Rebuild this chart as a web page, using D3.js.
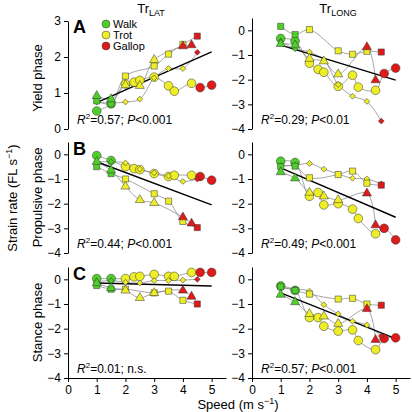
<!DOCTYPE html>
<html><head><meta charset="utf-8">
<script src="https://cdn.jsdelivr.net/npm/d3@7"></script>
<style>body{margin:0;background:#fff}svg{display:block;font-family:"Liberation Sans",Arial,Helvetica,sans-serif}</style>
</head><body><svg id="c" width="412" height="412"></svg>
<script>
// ---------- DATA ----------
const gaitNames = ["Walk", "Trot", "Gallop"];
const gaitColors = ["#4fcf2a", "#eeee26", "#de1a1a"];

// speeds (m/s) and gait index (0 walk, 1 trot, 2 gallop) per animal (marker)
const circleSpeeds   = [1.0, 1.5, 2.0, 2.3, 2.5, 3.0, 3.5, 3.7, 4.3, 4.6, 5.0];
const circleGaits    = [0, 0, 1, 1, 1, 1, 1, 1, 1, 2, 2];
const diamondSpeeds  = [1.0, 1.5, 2.0, 2.5, 3.0, 3.5, 4.0, 4.5];
const diamondGaits   = [0, 0, 1, 1, 1, 1, 1, 2];
const squareSpeeds   = [1.0, 1.5, 2.0, 3.0, 3.5, 4.0, 4.5];
const squareGaits    = [0, 0, 1, 1, 1, 1, 2];
const triangleSpeeds = [1.0, 1.5, 2.0, 2.5, 3.0, 4.0, 4.3];
const triangleGaits  = [0, 0, 1, 1, 1, 2, 2];

// Yield phase, TrLAT
const latYieldCircle   = [0.5, 0.7, 1.25, 1.3, 1.35, 1.44, 1.2, 1.05, 1.27, 1.15, 1.22];
const latYieldDiamond  = [0.75, 0.72, 0.75, 0.83, 1.42, 1.68, 1.68, 2.13];
const latYieldSquare   = [0.78, 0.7, 1.47, 1.75, 2.08, 2.35, 2.58];
const latYieldTriangle = [0.92, 0.83, 1.22, 1.2, 1.92, 2.3, 2.33];
// Yield phase, TrLONG
const longYieldCircle   = [-0.33, -0.43, -1.33, -1.58, -1.7, -2.27, -1.82, -2.3, -2.43, -1.75, -1.53];
const longYieldDiamond  = [-0.45, -0.75, -0.88, -1.2, -2.2, -2.67, -2.88, -3.68];
const longYieldSquare   = [0.16, -0.17, 0.03, -0.83, -0.97, -0.85, -0.88];
const longYieldTriangle = [-0.55, -0.6, -1.15, -1.25, -1.78, -0.68, -2.02];
// Propulsive phase, TrLAT
const latPropCircle   = [-0.05, -0.25, -0.5, -0.58, -0.62, -0.78, -0.9, -0.85, -0.85, -0.9, -1.05];
const latPropDiamond  = [-0.3, -0.3, -0.35, -0.6, -0.75, -0.88, -1.1, -1.0];
const latPropSquare   = [-0.5, -0.78, -1.0, -1.6, -1.9, -2.72, -2.97];
const latPropTriangle = [-0.3, -0.65, -1.3, -1.85, -1.97, -2.55, -2.8];
// Propulsive phase, TrLONG
const longPropCircle   = [-0.28, -0.33, -1.7, -1.55, -2.05, -2.0, -2.22, -2.6, -3.22, -3.0, -3.47];
const longPropDiamond  = [-0.45, -0.45, -0.37, -0.6, -0.8, -0.97, -1.0, -1.2];
const longPropSquare   = [-0.5, -0.48, -0.95, -0.82, -0.68, -1.17, -1.25];
const longPropTriangle = [-0.72, -0.97, -1.55, -1.7, -1.85, -1.58, -2.87];
// Stance phase, TrLAT
const latStanceCircle   = [0.03, 0.03, 0.03, 0.1, 0.12, 0.2, 0.12, 0.12, 0.28, 0.28, 0.28];
const latStanceDiamond  = [-0.1, -0.05, -0.12, -0.15, -0.05, -0.05, -0.03, 0.0];
const latStanceSquare   = [-0.25, -0.4, -0.4, -0.55, -0.48, -0.85, -1.0];
const latStanceTriangle = [-0.15, -0.35, -0.45, -0.75, -0.55, -0.45, -0.7];
// Stance phase, TrLONG
const longStanceCircle   = [-0.27, -0.45, -1.55, -1.55, -1.9, -2.1, -2.05, -2.48, -2.85, -2.4, -2.37];
const longStanceDiamond  = [-0.35, -0.4, -0.48, -1.03, -1.4, -1.7, -1.85, -2.3];
const longStanceSquare   = [-0.3, -0.45, -0.6, -0.8, -0.77, -1.0, -1.05];
const longStanceTriangle = [-0.62, -0.92, -1.4, -1.5, -1.8, -1.2, -2.45];

// regression lines: [speed, value] at both ends
const fitLatYield    = [[1, 0.73], [5, 2.14]];
const fitLongYield   = [[1, -0.6], [5, -2.02]];
const fitLatProp     = [[1, -0.3], [5, -2.05]];
const fitLongProp    = [[1, -0.55], [5, -2.55]];
const fitLatStance   = [[1, -0.15], [5, -0.27]];
const fitLongStance  = [[1, -0.55], [5, -2.4]];

const statLabels = [["0.57", "<0.001"], ["0.29", "<0.01"], ["0.44", "<0.001"], ["0.49", "<0.001"], ["0.01", "n.s."], ["0.57", "<0.001"]];
const rowLabels = ["Yield phase", "Propulsive phase", "Stance phase"];
const panelLetters = ["A", "B", "C"];
const xTicks = [0, 1, 2, 3, 4, 5];
const yTicksLatYield = [0, 1, 2, 3];
const yTicksNeg = [0, -1, -2, -3, -4];

// ---------- LAYOUT ----------
const svg = d3.select("#c");
const colX = [[68, 226], [252, 410]];
const rowY = [[129, 18], [253, 142], [378, 267]];

const animals = [
  {shape: "circle", speeds: circleSpeeds, gaits: circleGaits},
  {shape: "diamond", speeds: diamondSpeeds, gaits: diamondGaits},
  {shape: "square", speeds: squareSpeeds, gaits: squareGaits},
  {shape: "triangle", speeds: triangleSpeeds, gaits: triangleGaits}
];

const panels = [
  {row: 0, col: 0, vals: [latYieldCircle, latYieldDiamond, latYieldSquare, latYieldTriangle], fit: fitLatYield, stat: statLabels[0], ydom: [0, 3], yr: [129, 21], ticks: yTicksLatYield},
  {row: 0, col: 1, vals: [longYieldCircle, longYieldDiamond, longYieldSquare, longYieldTriangle], fit: fitLongYield, stat: statLabels[1], ydom: [-4, 0.5], yr: rowY[0], ticks: yTicksNeg},
  {row: 1, col: 0, vals: [latPropCircle, latPropDiamond, latPropSquare, latPropTriangle], fit: fitLatProp, stat: statLabels[2], ydom: [-4, 0.5], yr: rowY[1], ticks: yTicksNeg},
  {row: 1, col: 1, vals: [longPropCircle, longPropDiamond, longPropSquare, longPropTriangle], fit: fitLongProp, stat: statLabels[3], ydom: [-4, 0.5], yr: rowY[1], ticks: yTicksNeg},
  {row: 2, col: 0, vals: [latStanceCircle, latStanceDiamond, latStanceSquare, latStanceTriangle], fit: fitLatStance, stat: statLabels[4], ydom: [-4, 0.5], yr: rowY[2], ticks: yTicksNeg},
  {row: 2, col: 1, vals: [longStanceCircle, longStanceDiamond, longStanceSquare, longStanceTriangle], fit: fitLongStance, stat: statLabels[5], ydom: [-4, 0.5], yr: rowY[2], ticks: yTicksNeg}
];

function symbolPath(shape) {
  if (shape === "circle") return d3.symbol(d3.symbolCircle, 60)();
  if (shape === "square") return d3.symbol(d3.symbolSquare, 38)();
  if (shape === "triangle") return d3.symbol(d3.symbolTriangle, 36)();
  return d3.symbol(d3.symbolSquare, 17)();
}

panels.forEach(p => {
  const x = d3.scaleLinear([0, 5.5], colX[p.col]);
  const y = d3.scaleLinear(p.ydom, p.yr);
  const g = svg.append("g");

  // y axis
  const ya = g.append("g").attr("transform", `translate(${colX[p.col][0]},0)`)
    .call(d3.axisLeft(y).tickValues(p.ticks).tickSize(4).tickSizeOuter(0).tickPadding(3).tickFormat(d3.format("d")));
  ya.selectAll("text").attr("font-size", 12).attr("fill", "#000");
  ya.selectAll("path,line").attr("stroke", "#000");

  if (p.row === 2) {
    const xa = g.append("g").attr("transform", `translate(0,${p.yr[0]})`)
      .call(d3.axisBottom(x).tickValues(xTicks).tickSize(4).tickSizeOuter(0).tickPadding(3).tickFormat(d3.format("d")));
    xa.selectAll("text").attr("font-size", 12).attr("fill", "#000");
    xa.selectAll("path,line").attr("stroke", "#000");
  }

  // connecting lines
  const line = d3.line().x(d => x(d[0])).y(d => y(d[1])).curve(d3.curveCatmullRom.alpha(0.5));
  animals.forEach((a, i) => {
    const pts = a.speeds.map((s, k) => [s, p.vals[i][k]]);
    g.append("path").attr("d", line(pts)).attr("fill", "none").attr("stroke", "#808080").attr("stroke-width", 0.7);
  });

  // regression line
  g.append("line")
    .attr("x1", x(p.fit[0][0])).attr("y1", y(p.fit[0][1]))
    .attr("x2", x(p.fit[1][0])).attr("y2", y(p.fit[1][1]))
    .attr("stroke", "#000").attr("stroke-width", 1.4);

  // markers
  animals.forEach((a, i) => {
    a.speeds.forEach((s, k) => {
      g.append("path")
        .attr("d", symbolPath(a.shape))
        .attr("transform", `translate(${x(s)},${y(p.vals[i][k])})` + (a.shape === "diamond" ? " rotate(45)" : ""))
        .attr("fill", gaitColors[a.gaits[k]])
        .attr("stroke", "#333").attr("stroke-width", 0.5);
    });
  });

  // stats text
  const t = g.append("text").attr("x", colX[p.col][0] + 9).attr("y", p.yr[0] - 5).attr("font-size", 12).attr("fill", "#000");
  t.append("tspan").attr("font-style", "italic").text("R");
  t.append("tspan").attr("font-size", 8).attr("dy", -5).text("2");
  t.append("tspan").attr("dy", 5).text("=" + p.stat[0] + "; ");
  if (p.stat[1] === "n.s.") {
    t.append("tspan").text("n.s.");
  } else {
    t.append("tspan").attr("font-style", "italic").text("P");
    t.append("tspan").text(p.stat[1]);
  }

  // panel letter + row label
  if (p.col === 0) {
    svg.append("text").attr("x", 73).attr("y", p.row === 0 ? 33 : p.yr[1] + 13)
      .attr("font-size", 18).attr("font-weight", "bold").text(panelLetters[p.row]);
    svg.append("text").attr("transform", `translate(42,${(p.yr[0] + p.yr[1]) / 2 + (p.row === 0 ? 3 : 0)}) rotate(-90)`)
      .attr("text-anchor", "middle").attr("font-size", 13).text(rowLabels[p.row]);
  }
});

// column titles
[["Tr", "LAT", 151], ["Tr", "LONG", 338]].forEach(d => {
  const t = svg.append("text").attr("x", d[2]).attr("y", 13).attr("text-anchor", "middle").attr("font-size", 13);
  t.append("tspan").text(d[0]);
  t.append("tspan").attr("font-size", 9).attr("dy", 3).text(d[1]);
});

// y label
const yl = svg.append("text").attr("transform", "translate(17,198) rotate(-90)").attr("text-anchor", "middle").attr("font-size", 13);
yl.append("tspan").text("Strain rate (FL s");
yl.append("tspan").attr("font-size", 9).attr("dy", -5).text("\u22121");
yl.append("tspan").attr("dy", 5).text(")");

// x label
const xl = svg.append("text").attr("x", 238).attr("y", 409).attr("text-anchor", "middle").attr("font-size", 13);
xl.append("tspan").text("Speed (m s");
xl.append("tspan").attr("font-size", 9).attr("dy", -5).text("\u22121");
xl.append("tspan").attr("dy", 5).text(")");

// legend
gaitNames.forEach((n, i) => {
  svg.append("path").attr("d", d3.symbol(d3.symbolCircle, 50)()).attr("transform", `translate(106,${24 + i * 11})`)
    .attr("fill", gaitColors[i]).attr("stroke", "#333").attr("stroke-width", 0.5);
  svg.append("text").attr("x", 113).attr("y", 28 + i * 11).attr("font-size", 11).text(n);
});
</script></body></html>
